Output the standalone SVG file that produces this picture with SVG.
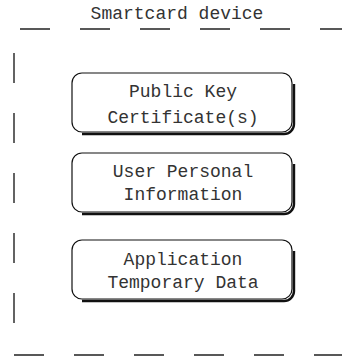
<svg xmlns="http://www.w3.org/2000/svg" width="342" height="358" viewBox="0 0 342 358">
  <style>
    .lbl { font-family: "Liberation Mono", "Courier New", monospace; font-size: 18px; fill: #333; text-anchor: middle; }
    .dash { stroke: #222; stroke-width: 1.4; fill: none; stroke-dasharray: 30 30; }
    .box { fill: #fff; stroke: #111; stroke-width: 1.2; }
    .shadow { fill: none; stroke: #111; stroke-width: 2.4; }
  </style>

  <!-- Dashed boundary of the smartcard device -->
  <g id="device-boundary">
    <line class="dash" x1="20" y1="29" x2="342" y2="29"/>
    <line class="dash" x1="14" y1="355" x2="342" y2="355"/>
    <line class="dash" x1="14" y1="53" x2="14" y2="330"/>
    <text class="lbl" x="177" y="19">Smartcard device</text>
  </g>

  <g id="connectors"></g>

  <g id="public-key-cert">
    <path class="shadow" d="M294,84 V124 A10,10 0 0 1 284,134 H82"/>
    <rect class="box" x="72" y="73" width="220" height="59" rx="10"/>
    <text class="lbl" x="183" y="97">Public Key</text>
    <text class="lbl" x="183" y="123">Certificate(s)</text>
  </g>

  <g id="user-personal-info">
    <path class="shadow" d="M294,164 V204 A10,10 0 0 1 284,214 H82"/>
    <rect class="box" x="72" y="153" width="220" height="59" rx="10"/>
    <text class="lbl" x="183" y="177">User Personal</text>
    <text class="lbl" x="183" y="200">Information</text>
  </g>

  <g id="app-temp-data">
    <path class="shadow" d="M294,251 V291 A10,10 0 0 1 284,301 H82"/>
    <rect class="box" x="72" y="240" width="220" height="59" rx="10"/>
    <text class="lbl" x="183" y="265">Application</text>
    <text class="lbl" x="183" y="288">Temporary Data</text>
  </g>
</svg>
